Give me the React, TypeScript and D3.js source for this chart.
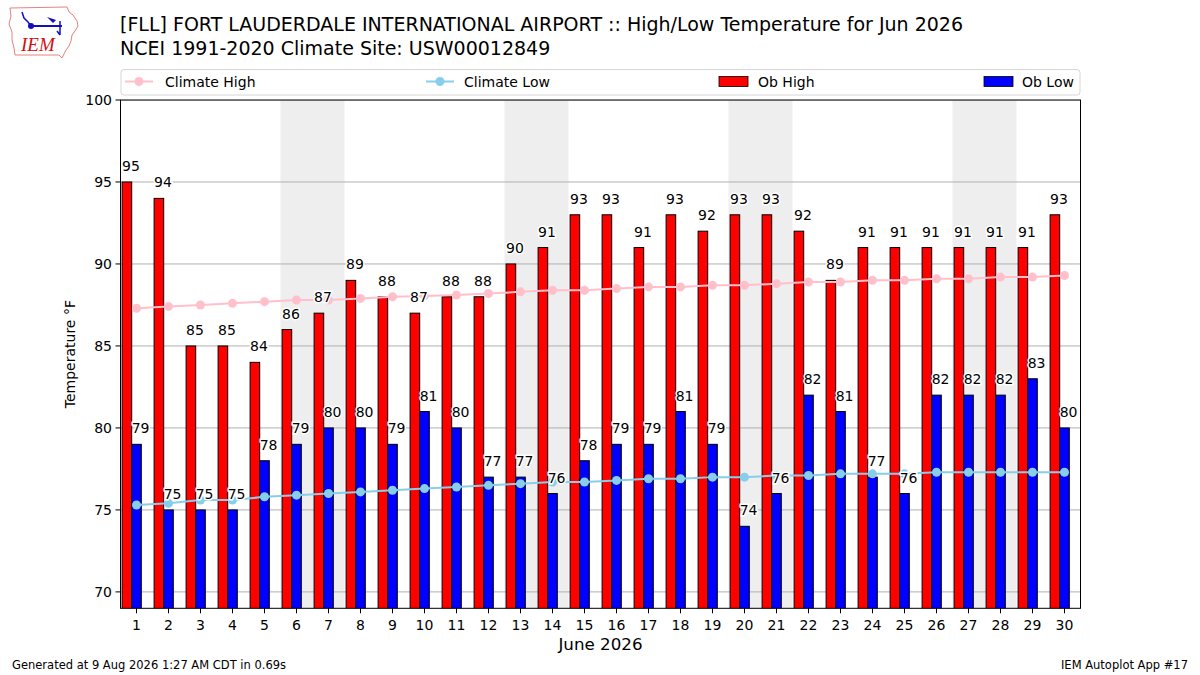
import { useEffect, useRef } from 'react';
import * as d3 from 'd3';

// June 2026 observations, FLL
const days = [1, 2, 3, 4, 5, 6, 7, 8, 9, 10, 11, 12, 13, 14, 15, 16, 17, 18, 19, 20, 21, 22, 23, 24, 25, 26, 27, 28, 29, 30];
const obHigh = [95, 94, 85, 85, 84, 86, 87, 89, 88, 87, 88, 88, 90, 91, 93, 93, 91, 93, 92, 93, 93, 92, 89, 91, 91, 91, 91, 91, 91, 93];
const obLow = [79, 75, 75, 75, 78, 79, 80, 80, 79, 81, 80, 77, 77, 76, 78, 79, 79, 81, 79, 74, 76, 82, 81, 77, 76, 82, 82, 82, 83, 80];
const climateHigh = [87.3, 87.4, 87.5, 87.6, 87.7, 87.8, 87.8, 87.9, 88.0, 88.05, 88.1, 88.2, 88.3, 88.4, 88.4, 88.5, 88.6, 88.6, 88.7, 88.7, 88.8, 88.9, 88.9, 89.0, 89.0, 89.1, 89.1, 89.2, 89.2, 89.3];
const climateLow = [75.3, 75.4, 75.6, 75.6, 75.8, 75.9, 76.0, 76.1, 76.2, 76.3, 76.4, 76.5, 76.6, 76.7, 76.7, 76.8, 76.9, 76.9, 77.0, 77.0, 77.1, 77.1, 77.2, 77.2, 77.2, 77.3, 77.3, 77.3, 77.3, 77.3];
const weekendStarts = [6, 13, 20, 27];
const yTicks = [70, 75, 80, 85, 90, 95, 100];

const titleLines = [
  '[FLL] FORT LAUDERDALE INTERNATIONAL AIRPORT :: High/Low Temperature for Jun 2026',
  'NCEI 1991-2020 Climate Site: USW00012849',
];

const FONT = '"DejaVu Sans", sans-serif';

const App = () => {
  const svgRef = useRef<SVGSVGElement>(null);

  useEffect(() => {
    if (!svgRef.current) return;
    const svg = d3.select(svgRef.current);
    svg.selectAll('*').remove();

    const left = 120.5;
    const right = 1080.5;
    const top = 100;
    const bottom = 608.3;

    const x = d3.scaleLinear().domain([0.5, 30.5]).range([left, right]);
    const y = d3.scaleLinear().domain([69, 100]).range([bottom, top]);

    svg.append('rect').attr('width', 1200).attr('height', 675).attr('fill', 'white');

    // Logo (rough IEM mark)
    const logo = svg.append('g');
    logo.append('path')
      .attr('d', 'M10,8 L67,7 L69,12 L73,15 L77,21 L78,26 L75,31 L72,35 L71,41 L69,46 L66,50 L64,54 L62,58 L59,55 L15,55 L14,48 L12,40 L12,32 L9,24 L11,16 Z')
      .attr('fill', 'none')
      .attr('stroke', '#e88080')
      .attr('stroke-width', 1);
    logo.append('line').attr('x1', 31).attr('y1', 26).attr('x2', 62).attr('y2', 26).attr('stroke', '#1010c0').attr('stroke-width', 2);
    logo.append('circle').attr('cx', 31).attr('cy', 26).attr('r', 3).attr('fill', '#1010c0');
    logo.append('path').attr('d', 'M47,17 L56,20 L53,23 Z').attr('fill', '#1010c0');
    logo.append('path').attr('d', 'M22,12 L24,18 L28,22 L31,26').attr('fill', 'none').attr('stroke', '#1010c0').attr('stroke-width', 1.5);
    logo.append('path').attr('d', 'M60,21 L60,35 M57,31 L60,35').attr('fill', 'none').attr('stroke', '#1010c0').attr('stroke-width', 1.5);
    logo.append('text')
      .attr('x', 21).attr('y', 51)
      .attr('font-family', '"Liberation Serif", serif')
      .attr('font-style', 'italic')
      .attr('font-size', 19)
      .attr('fill', '#d01010')
      .text('IEM');

    // Title
    titleLines.forEach((t, i) => {
      svg.append('text')
        .attr('x', 120)
        .attr('y', 31 + i * 24)
        .attr('font-family', FONT)
        .attr('font-size', 19)
        .attr('fill', '#000')
        .text(t);
    });

    // Legend
    const legend = svg.append('g');
    legend.append('rect')
      .attr('x', 121).attr('y', 69.5).attr('width', 959).attr('height', 25.5)
      .attr('rx', 3).attr('fill', 'white').attr('stroke', '#d6d6d6');
    const legLines = [
      { x0: 125, tx: 165, color: 'pink', label: 'Climate High' },
      { x0: 426, tx: 464, color: 'skyblue', label: 'Climate Low' },
    ];
    legLines.forEach(l => {
      legend.append('line').attr('x1', l.x0).attr('x2', l.x0 + 28).attr('y1', 81.5).attr('y2', 81.5)
        .attr('stroke', l.color).attr('stroke-width', 2);
      legend.append('circle').attr('cx', l.x0 + 14).attr('cy', 81.5).attr('r', 4.5).attr('fill', l.color);
      legend.append('text').attr('x', l.tx).attr('y', 86.5).attr('font-family', FONT).attr('font-size', 14).text(l.label);
    });
    const legPatches = [
      { x0: 719, tx: 758, color: 'red', label: 'Ob High' },
      { x0: 984, tx: 1022, color: 'blue', label: 'Ob Low' },
    ];
    legPatches.forEach(l => {
      legend.append('rect').attr('x', l.x0).attr('y', 76.5).attr('width', 29).attr('height', 10)
        .attr('fill', l.color).attr('stroke', 'black').attr('stroke-width', 0.8);
      legend.append('text').attr('x', l.tx).attr('y', 86.5).attr('font-family', FONT).attr('font-size', 14).text(l.label);
    });

    const plot = svg.append('g');
    svg.append('clipPath').attr('id', 'plotclip')
      .append('rect').attr('x', left).attr('y', top).attr('width', right - left).attr('height', bottom - top);
    plot.attr('clip-path', 'url(#plotclip)');

    // Weekend shading
    plot.selectAll('.wk')
      .data(weekendStarts)
      .enter()
      .append('rect')
      .attr('x', d => x(d - 0.5))
      .attr('y', top)
      .attr('width', d => x(d + 1.5) - x(d - 0.5))
      .attr('height', bottom - top)
      .attr('fill', '#eeeeee');

    // Grid
    plot.selectAll('.grid')
      .data(yTicks)
      .enter()
      .append('line')
      .attr('x1', left).attr('x2', right)
      .attr('y1', d => y(d)).attr('y2', d => y(d))
      .attr('stroke', '#b0b0b0').attr('stroke-width', 1);

    // Bars
    plot.selectAll('.hi')
      .data(days)
      .enter()
      .append('rect')
      .attr('x', d => x(d - 0.45))
      .attr('y', (d, i) => y(obHigh[i]))
      .attr('width', x(0.3) - x(0))
      .attr('height', (d, i) => bottom + 2 - y(obHigh[i]))
      .attr('fill', 'red')
      .attr('stroke', 'black')
      .attr('stroke-width', 1);
    plot.selectAll('.lo')
      .data(days)
      .enter()
      .append('rect')
      .attr('x', d => x(d - 0.15))
      .attr('y', (d, i) => y(obLow[i]))
      .attr('width', x(0.3) - x(0))
      .attr('height', (d, i) => bottom + 2 - y(obLow[i]))
      .attr('fill', 'blue')
      .attr('stroke', 'black')
      .attr('stroke-width', 1);

    // Climate lines
    const climSeries = [
      { vals: climateHigh, color: 'pink' },
      { vals: climateLow, color: 'skyblue' },
    ];
    climSeries.forEach(s => {
      const line = d3.line<number>().x((d, i) => x(days[i])).y(d => y(d));
      plot.append('path').attr('d', line(s.vals)).attr('fill', 'none').attr('stroke', s.color).attr('stroke-width', 2);
      plot.selectAll(null)
        .data(s.vals)
        .enter()
        .append('circle')
        .attr('cx', (d, i) => x(days[i]))
        .attr('cy', d => y(d))
        .attr('r', 4.5)
        .attr('fill', s.color);
    });

    // Value labels
    const labelSets = [
      { vals: obHigh, off: -0.45 },
      { vals: obLow, off: -0.15 },
    ];
    labelSets.forEach(s => {
      svg.selectAll(null)
        .data(days)
        .enter()
        .append('text')
        .attr('x', d => x(d + s.off))
        .attr('y', (d, i) => y(s.vals[i]) - 11)
        .attr('font-family', FONT)
        .attr('font-size', 14)
        .attr('fill', 'black')
        .attr('stroke', 'white')
        .attr('stroke-width', 3)
        .attr('paint-order', 'stroke')
        .text((d, i) => s.vals[i]);
    });

    // Frame
    svg.append('rect')
      .attr('x', left).attr('y', top).attr('width', right - left).attr('height', bottom - top)
      .attr('fill', 'none').attr('stroke', 'black').attr('stroke-width', 1);

    // Y axis ticks
    yTicks.forEach(t => {
      svg.append('line').attr('x1', left - 5).attr('x2', left).attr('y1', y(t)).attr('y2', y(t)).attr('stroke', 'black');
      svg.append('text')
        .attr('x', left - 8.5).attr('y', y(t) + 5)
        .attr('text-anchor', 'end')
        .attr('font-family', FONT).attr('font-size', 14)
        .text(t);
    });

    // X axis ticks
    days.forEach(d => {
      svg.append('line').attr('x1', x(d)).attr('x2', x(d)).attr('y1', bottom).attr('y2', bottom + 5).attr('stroke', 'black');
      svg.append('text')
        .attr('x', x(d)).attr('y', bottom + 22)
        .attr('text-anchor', 'middle')
        .attr('font-family', FONT).attr('font-size', 14)
        .text(d);
    });

    svg.append('text')
      .attr('transform', `translate(75, ${(top + bottom) / 2}) rotate(-90)`)
      .attr('text-anchor', 'middle')
      .attr('font-family', FONT).attr('font-size', 14)
      .text('Temperature °F');

    svg.append('text')
      .attr('x', (left + right) / 2).attr('y', 650)
      .attr('text-anchor', 'middle')
      .attr('font-family', FONT).attr('font-size', 16.7)
      .text('June 2026');

    // Footer
    svg.append('text')
      .attr('x', 12).attr('y', 669)
      .attr('font-family', FONT).attr('font-size', 11.5)
      .text('Generated at 9 Aug 2026 1:27 AM CDT in 0.69s');
    svg.append('text')
      .attr('x', 1188).attr('y', 669)
      .attr('text-anchor', 'end')
      .attr('font-family', FONT).attr('font-size', 11.5)
      .text('IEM Autoplot App #17');
  }, []);

  return (
    <svg
      ref={svgRef}
      width={1200}
      height={675}
      style={{ position: 'absolute', left: 0, top: 0 }}
    />
  );
};

export default App;
